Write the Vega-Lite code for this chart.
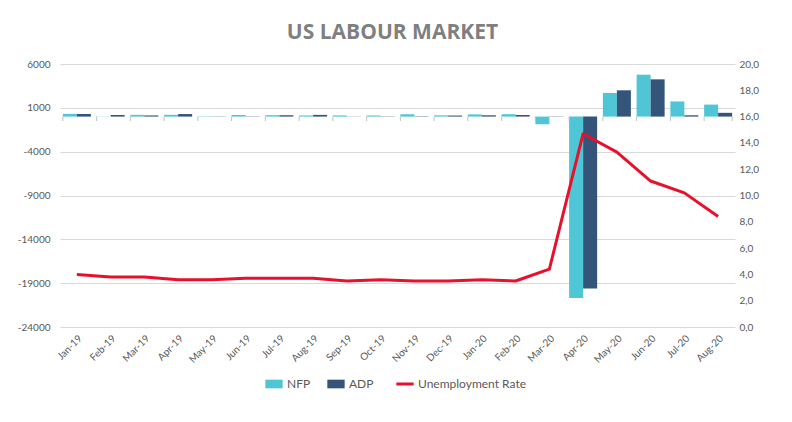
{
  "$schema": "https://vega.github.io/schema/vega-lite/v6.json",
  "width": 675,
  "height": 263,
  "autosize": "none",
  "padding": {"left": 60, "top": 64, "right": 57, "bottom": 95},
  "background": "white",
  "title": {
    "text": "US LABOUR MARKET",
    "font": "Open Sans",
    "fontSize": 21,
    "fontWeight": "bold",
    "color": "#7F7F7F",
    "anchor": "middle",
    "offset": 16,
    "dx": -5
  },
  "datasets": {
    "bars": [
      {"month": "Jan-19", "series": "NFP", "value": 312},
      {"month": "Jan-19", "series": "ADP", "value": 300},
      {"month": "Feb-19", "series": "NFP", "value": 20},
      {"month": "Feb-19", "series": "ADP", "value": 183},
      {"month": "Mar-19", "series": "NFP", "value": 196},
      {"month": "Mar-19", "series": "ADP", "value": 129},
      {"month": "Apr-19", "series": "NFP", "value": 200},
      {"month": "Apr-19", "series": "ADP", "value": 290},
      {"month": "May-19", "series": "NFP", "value": 40},
      {"month": "May-19", "series": "ADP", "value": 27},
      {"month": "Jun-19", "series": "NFP", "value": 180},
      {"month": "Jun-19", "series": "ADP", "value": 30},
      {"month": "Jul-19", "series": "NFP", "value": 164},
      {"month": "Jul-19", "series": "ADP", "value": 156},
      {"month": "Aug-19", "series": "NFP", "value": 130},
      {"month": "Aug-19", "series": "ADP", "value": 195},
      {"month": "Sep-19", "series": "NFP", "value": 136},
      {"month": "Sep-19", "series": "ADP", "value": 20},
      {"month": "Oct-19", "series": "NFP", "value": 128},
      {"month": "Oct-19", "series": "ADP", "value": 30},
      {"month": "Nov-19", "series": "NFP", "value": 266},
      {"month": "Nov-19", "series": "ADP", "value": 40},
      {"month": "Dec-19", "series": "NFP", "value": 145},
      {"month": "Dec-19", "series": "ADP", "value": 120},
      {"month": "Jan-20", "series": "NFP", "value": 250},
      {"month": "Jan-20", "series": "ADP", "value": 150},
      {"month": "Feb-20", "series": "NFP", "value": 273},
      {"month": "Feb-20", "series": "ADP", "value": 183},
      {"month": "Mar-20", "series": "NFP", "value": -870},
      {"month": "Mar-20", "series": "ADP", "value": -30},
      {"month": "Apr-20", "series": "NFP", "value": -20700},
      {"month": "Apr-20", "series": "ADP", "value": -19600},
      {"month": "May-20", "series": "NFP", "value": 2700},
      {"month": "May-20", "series": "ADP", "value": 3000},
      {"month": "Jun-20", "series": "NFP", "value": 4780},
      {"month": "Jun-20", "series": "ADP", "value": 4250},
      {"month": "Jul-20", "series": "NFP", "value": 1730},
      {"month": "Jul-20", "series": "ADP", "value": 150},
      {"month": "Aug-20", "series": "NFP", "value": 1370},
      {"month": "Aug-20", "series": "ADP", "value": 430}
    ],
    "rate": [
      {"month": "Jan-19", "series": "Unemployment Rate", "rate": 4.0},
      {"month": "Feb-19", "series": "Unemployment Rate", "rate": 3.8},
      {"month": "Mar-19", "series": "Unemployment Rate", "rate": 3.8},
      {"month": "Apr-19", "series": "Unemployment Rate", "rate": 3.6},
      {"month": "May-19", "series": "Unemployment Rate", "rate": 3.6},
      {"month": "Jun-19", "series": "Unemployment Rate", "rate": 3.7},
      {"month": "Jul-19", "series": "Unemployment Rate", "rate": 3.7},
      {"month": "Aug-19", "series": "Unemployment Rate", "rate": 3.7},
      {"month": "Sep-19", "series": "Unemployment Rate", "rate": 3.5},
      {"month": "Oct-19", "series": "Unemployment Rate", "rate": 3.6},
      {"month": "Nov-19", "series": "Unemployment Rate", "rate": 3.5},
      {"month": "Dec-19", "series": "Unemployment Rate", "rate": 3.5},
      {"month": "Jan-20", "series": "Unemployment Rate", "rate": 3.6},
      {"month": "Feb-20", "series": "Unemployment Rate", "rate": 3.5},
      {"month": "Mar-20", "series": "Unemployment Rate", "rate": 4.4},
      {"month": "Apr-20", "series": "Unemployment Rate", "rate": 14.7},
      {"month": "May-20", "series": "Unemployment Rate", "rate": 13.3},
      {"month": "Jun-20", "series": "Unemployment Rate", "rate": 11.1},
      {"month": "Jul-20", "series": "Unemployment Rate", "rate": 10.2},
      {"month": "Aug-20", "series": "Unemployment Rate", "rate": 8.4}
    ]
  },
  "encoding": {
    "x": {
      "field": "month",
      "type": "ordinal",
      "title": null,
      "scale": {
        "domain": ["Jan-19", "Feb-19", "Mar-19", "Apr-19", "May-19", "Jun-19", "Jul-19", "Aug-19", "Sep-19", "Oct-19", "Nov-19", "Dec-19", "Jan-20", "Feb-20", "Mar-20", "Apr-20", "May-20", "Jun-20", "Jul-20", "Aug-20"],
        "paddingInner": 0.17,
        "paddingOuter": 0.085
      },
      "axis": {
        "labelAngle": -45,
        "labelFont": "Lato",
        "labelFontSize": 10,
        "labelColor": "#595959",
        "labelPadding": 6,
        "domain": false,
        "ticks": false,
        "grid": false
      }
    }
  },
  "layer": [
    {
      "data": {"name": "bars"},
      "layer": [
        {
          "mark": {"type": "bar"},
          "encoding": {
            "xOffset": {
              "field": "series",
              "scale": {"domain": ["NFP", "ADP"], "paddingInner": 0, "paddingOuter": 0}
            },
            "y": {
              "field": "value",
              "type": "quantitative",
              "title": null,
              "scale": {"domain": [-24000, 6000], "nice": false, "zero": false},
              "axis": {
                "values": [6000, 1000, -4000, -9000, -14000, -19000, -24000],
                "labelExpr": "'' + datum.value",
                "labelFont": "Lato",
                "labelFontSize": 10,
                "labelColor": "#595959",
                "labelPadding": 10,
                "domain": false,
                "ticks": false,
                "gridColor": "#D9D9D9",
                "gridWidth": 1
              }
            },
            "color": {
              "field": "series",
              "type": "nominal",
              "scale": {
                "domain": ["NFP", "ADP", "Unemployment Rate"],
                "range": ["#4EC6D5", "#34547A", "#E8112D"]
              },
              "legend": {
                "orient": "bottom",
                "direction": "horizontal",
                "title": null,
                "offset": 13,
                "labelFont": "Lato",
                "labelFontSize": 12,
                "labelColor": "#595959",
                "labelOffset": 7,
                "columnPadding": 16,
                "symbolSize": 300,
                "encode": {
                  "symbols": {
                    "update": {
                      "shape": {"signal": "datum.label === 'Unemployment Rate' ? 'M-1,0H1' : 'M-1,-0.5H1V0.5H-1Z'"},
                      "fill": {"signal": "datum.label === 'Unemployment Rate' ? 'transparent' : scale('color', datum.value)"},
                      "stroke": {"signal": "scale('color', datum.value)"},
                      "strokeWidth": {"signal": "datum.label === 'Unemployment Rate' ? 3 : 0"},
                      "opacity": {"value": 1},
                      "fillOpacity": {"value": 1}
                    }
                  }
                }
              }
            }
          }
        },
        {
          "transform": [{"filter": "datum.series === 'NFP'"}],
          "mark": {"type": "rule", "color": "#BFBFBF", "strokeWidth": 1},
          "encoding": {
            "x": {"field": "month", "type": "ordinal", "bandPosition": 0},
            "y": {"datum": 0, "type": "quantitative"},
            "y2": {"datum": -500}
          }
        },
        {
          "transform": [{"filter": "datum.series === 'NFP' && datum.month === 'Aug-20'"}],
          "mark": {"type": "rule", "color": "#BFBFBF", "strokeWidth": 1},
          "encoding": {
            "x": {"field": "month", "type": "ordinal", "bandPosition": 1},
            "y": {"datum": 0, "type": "quantitative"},
            "y2": {"datum": -500}
          }
        },
        {
          "mark": {"type": "rule", "color": "#BFBFBF", "strokeWidth": 2},
          "encoding": {
            "y": {"datum": 0, "type": "quantitative"}
          }
        }
      ]
    },
    {
      "data": {"name": "rate"},
      "mark": {"type": "line", "strokeWidth": 3, "strokeJoin": "round"},
      "encoding": {
        "y": {
          "field": "rate",
          "type": "quantitative",
          "title": null,
          "scale": {"domain": [0, 20], "nice": false},
          "axis": {
            "orient": "right",
            "values": [0, 2, 4, 6, 8, 10, 12, 14, 16, 18, 20],
            "labelExpr": "replace(format(datum.value, '.1f'), '.', ',')",
            "labelFont": "Lato",
            "labelFontSize": 10,
            "labelColor": "#595959",
            "labelPadding": 4,
            "domain": false,
            "ticks": false,
            "grid": false
          }
        },
        "color": {"field": "series", "type": "nominal"}
      }
    }
  ],
  "resolve": {"scale": {"y": "independent"}},
  "config": {
    "view": {"stroke": null},
    "legend": {"layout": {"bottom": {"anchor": "middle"}}}
  }
}
